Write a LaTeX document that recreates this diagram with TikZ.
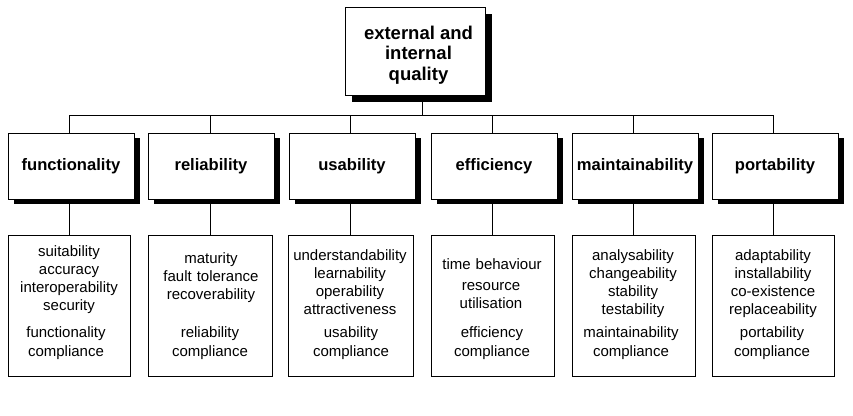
\documentclass[tikz,border=0pt]{standalone}
\usepackage{fontspec}
\setmainfont{Liberation Sans}
\usetikzlibrary{shadows,backgrounds}
\begin{document}
\begin{tikzpicture}[x=1pt,y=-1pt,
  line width=0.9pt,
  topbox/.style={draw, fill=white, minimum width=140pt, minimum height=88pt,
    drop shadow={shadow xshift=7pt, shadow yshift=-7pt, fill=black, opacity=1}},
  headbox/.style={draw, fill=white, minimum width=126pt, minimum height=66pt,
    font=\fontsize{16.6}{20}\selectfont\bfseries,
    drop shadow={shadow xshift=6pt, shadow yshift=-5pt, fill=black, opacity=1}},
  listbox/.style={draw, fill=white, minimum height=141pt},
  listtext/.style={inner sep=0pt, text width=130pt, align=center, anchor=base,
    font=\fontsize{15}{18.3}\selectfont},
  comptext/.style={listtext, font=\fontsize{15}{19}\selectfont},
  conn/.style={line width=0.9pt}]
\useasboundingbox (0,0) rectangle (853,415);

\node[topbox] (top) at (415,51) {};
\node[inner sep=0pt, align=center, font=\fontsize{18.5}{20.5}\selectfont\bfseries] (toptext) at (418.5,55) {external and\\internal\\quality};

% level 2
\node[headbox] (hf) at (71,166) {functionality};
\node[headbox] (hr) at (211,166) {reliability};
\node[headbox] (hu) at (352,166) {usability};
\node[headbox] (he) at (494,166) {efficiency};
\node[headbox] (hm) at (635,166) {maintainability};
\node[headbox] (hp) at (775,166) {portability};

% level 3
\node[listbox, minimum width=122pt] (lf) at (69,305.5) {};
\node[listbox, minimum width=124pt] (lr) at (210,305.5) {};
\node[listbox, minimum width=125pt] (lu) at (350.5,305.5) {};
\node[listbox, minimum width=123pt] (le) at (492.5,305.5) {};
\node[listbox, minimum width=123pt] (lm) at (633.5,305.5) {};
\node[listbox, minimum width=122pt] (lp) at (773,305.5) {};

\node[listtext] (tf) at (69,256) {suitability\\accuracy\\interoperability\\security};
\node[comptext] (cf) at (66,337) {functionality\\compliance};
\node[listtext] (tr) at (211,263) {maturity\\fault tolerance\\recoverability};
\node[comptext] (cr) at (210,337) {reliability\\compliance};
\node[listtext] (tu) at (350,260) {understandability\\learnability\\operability\\attractiveness};
\node[comptext] (cu) at (351,337) {usability\\compliance};
\node[listtext] (te) at (492,269) {time behaviour};
\node[listtext] (re) at (491,290) {resource\\utilisation};
\node[comptext] (ce) at (492,337) {efficiency\\compliance};
\node[listtext] (tm) at (633,260) {analysability\\changeability\\stability\\testability};
\node[comptext] (cm) at (631,337) {maintainability\\compliance};
\node[listtext] (tp) at (773,260) {adaptability\\installability\\co-existence\\replaceability};
\node[comptext] (cp) at (772,337) {portability\\compliance};

\coordinate (hub) at (422,115);

\begin{scope}[on background layer]
  \draw[conn] (hub |- top.south) -- (hub);
  \draw[conn] (lf.north |- hub) -- (lp.north |- hub);
  \foreach \n in {lf,lr,lu,le,lm,lp}{
    \draw[conn] (\n.north) -- (\n.north |- hub);
  }
\end{scope}
\end{tikzpicture}
\end{document}
